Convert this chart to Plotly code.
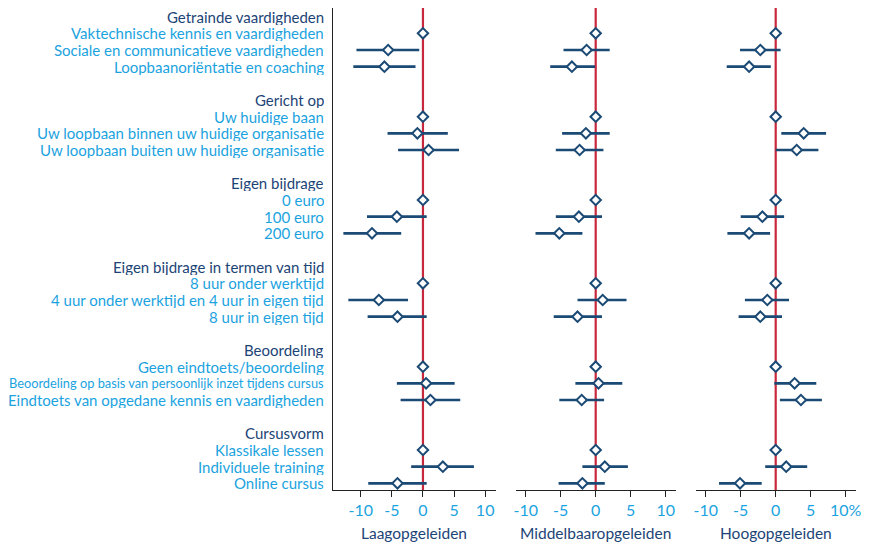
import plotly.graph_objects as go

# Row labels (headers and items), top to bottom
groups = ["Getrainde vaardigheden", "Gericht op", "Eigen bijdrage",
          "Eigen bijdrage in termen van tijd", "Beoordeling", "Cursusvorm"]
items = [
    ["Vaktechnische kennis en vaardigheden", "Sociale en communicatieve vaardigheden", "Loopbaanoriëntatie en coaching"],
    ["Uw huidige baan", "Uw loopbaan binnen uw huidige organisatie", "Uw loopbaan buiten uw huidige organisatie"],
    ["0 euro", "100 euro", "200 euro"],
    ["8 uur onder werktijd", "4 uur onder werktijd en 4 uur in eigen tijd", "8 uur in eigen tijd"],
    ["Geen eindtoets/beoordeling", "Beoordeling op basis van persoonlijk inzet tijdens cursus", "Eindtoets van opgedane kennis en vaardigheden"],
    ["Klassikale lessen", "Individuele training", "Online cursus"],
]

panels = ["Laagopgeleiden", "Middelbaaropgeleiden", "Hoogopgeleiden"]

# Estimates and confidence interval bounds per panel (18 items, in order)
laag_est = [0, -5.6, -6.2, 0, -0.9, 0.9, 0, -4.2, -8.2, 0, -7.1, -4.1, 0, 0.5, 1.2, 0, 3.2, -4.1]
laag_lo = [0, -10.7, -11.2, 0, -5.7, -4.0, 0, -9.0, -12.8, 0, -12.0, -8.9, 0, -4.2, -3.6, 0, -1.9, -8.8]
laag_hi = [0, -0.6, -1.2, 0, 4.0, 5.8, 0, 0.6, -3.5, 0, -2.4, 0.6, 0, 5.1, 6.0, 0, 8.2, 0.6]

midd_est = [0, -1.3, -3.4, 0, -1.4, -2.3, 0, -2.4, -5.2, 0, 1.0, -2.6, 0, 0.4, -2.0, 0, 1.3, -1.9]
midd_lo = [0, -4.6, -6.5, 0, -4.8, -5.7, 0, -5.7, -8.6, 0, -2.6, -6.0, 0, -2.9, -5.2, 0, -1.9, -5.3]
midd_hi = [0, 2.0, -0.1, 0, 2.0, 1.1, 0, 0.9, -1.9, 0, 4.4, 0.9, 0, 3.8, 1.2, 0, 4.6, 1.3]

hoog_est = [0, -2.2, -3.8, 0, 4.0, 3.0, 0, -1.9, -3.8, 0, -1.2, -2.2, 0, 2.7, 3.6, 0, 1.5, -5.1]
hoog_lo = [0, -5.1, -7.0, 0, 0.8, 0.0, 0, -5.0, -6.9, 0, -4.4, -5.3, 0, -0.2, 0.6, 0, -1.5, -8.1]
hoog_hi = [0, 0.7, -0.7, 0, 7.2, 6.1, 0, 1.2, -0.8, 0, 1.9, 0.9, 0, 5.8, 6.6, 0, 4.5, -2.0]

tick_vals = [-10, -5, 0, 5, 10]
tick_text_a = ["-10", "-5", "0", "5", "10"]
tick_text_c = ["-10", "-5", "0", "5", "10%"]

NAVY = "#1b4a75"
RED = "#c8283c"
HEAD = "#1c4476"
ITEM = "#1ba3e0"
FONT = "Lato, Roboto, sans-serif"

W, H = 875, 547
OFF = 8  # page body margin offset

# slot positions: header, 3 items, gap per group
item_pos = []
head_pos = []
for g in range(len(groups)):
    base = g * 5
    head_pos.append(base)
    for k in range(3):
        item_pos.append(base + 1 + k)

data = [(laag_est, laag_lo, laag_hi), (midd_est, midd_lo, midd_hi), (hoog_est, hoog_lo, hoog_hi)]

fig = go.Figure()
for i, (est, lo, hi) in enumerate(data):
    suffix = "" if i == 0 else str(i + 1)
    fig.add_trace(go.Scatter(
        x=est, y=item_pos, mode="markers",
        xaxis="x" + suffix, yaxis="y" + suffix,
        marker=dict(symbol="diamond", size=8, color="white", line=dict(color=NAVY, width=2)),
        error_x=dict(type="data", symmetric=False,
                     array=[h - e for h, e in zip(hi, est)],
                     arrayminus=[e - l for e, l in zip(est, lo)],
                     color=NAVY, thickness=2.6, width=0),
        showlegend=False, hoverinfo="skip",
    ))

def px_x(v):
    return (v - OFF) / W

def px_y(v):
    return 1 - (v - OFF) / H

x_domains = [[px_x(333), px_x(495.7)], [px_x(515.7), px_x(675.7)], [px_x(695.7), px_x(855.7)]]
x_ranges = [[-14.47, 11.7], [-11.43, 11.43], [-11.43, 11.43]]
y_dom = [px_y(490), px_y(8)]
y_range = [28.4, -0.52]

layout = dict(
    width=W, height=H, margin=dict(l=0, r=0, t=0, b=0),
    plot_bgcolor="white", paper_bgcolor="white",
    font=dict(family=FONT),
    shapes=[], annotations=[],
)
for i in range(3):
    suffix = "" if i == 0 else str(i + 1)
    ax_id = "x" + suffix
    ay_id = "y" + suffix
    layout["xaxis" + suffix] = dict(
        domain=x_domains[i], range=x_ranges[i], anchor=ay_id,
        tickvals=tick_vals, ticktext=tick_text_c if i == 2 else tick_text_a,
        ticks="outside", ticklen=6, tickwidth=1.3, tickcolor="#222",
        showline=True, linecolor="#222", linewidth=1.3,
        showgrid=False, zeroline=False,
        tickfont=dict(family=FONT, size=16, color=ITEM),
        automargin=False, fixedrange=True,
    )
    layout["yaxis" + suffix] = dict(
        domain=y_dom, range=y_range, anchor=ax_id,
        showticklabels=False, ticks="", showgrid=False, zeroline=False,
        showline=(i == 0), linecolor="#222", linewidth=1.3,
        automargin=False, fixedrange=True,
    )
    layout["shapes"].append(dict(
        type="line", xref=ax_id, yref=ay_id + " domain", x0=0, x1=0, y0=0, y1=1,
        line=dict(color=RED, width=2.2), layer="below",
    ))
    layout["annotations"].append(dict(
        text=panels[i], x=(x_domains[i][0] + x_domains[i][1]) / 2, xref="paper", xanchor="center",
        y=px_y(533), yref="paper", yanchor="middle", showarrow=False,
        font=dict(family=FONT, size=15.5, color=HEAD),
    ))

label_x = px_x(325)
for g, name in enumerate(groups):
    layout["annotations"].append(dict(
        text=name, x=label_x, xref="paper", xanchor="right", y=head_pos[g], yref="y",
        yanchor="middle", showarrow=False, borderpad=0, height=16,
        font=dict(family=FONT, size=15, color=HEAD),
    ))
    for k in range(3):
        txt = items[g][k]
        size = 15
        if len(txt) > 50:
            size = 12.8
        layout["annotations"].append(dict(
            text=txt, x=label_x, xref="paper", xanchor="right", y=head_pos[g] + 1 + k, yref="y",
            yanchor="middle", showarrow=False, borderpad=0, height=16,
            font=dict(family=FONT, size=size, color=ITEM),
        ))

fig.update_layout(**layout)
fig.write_html("out.html")
